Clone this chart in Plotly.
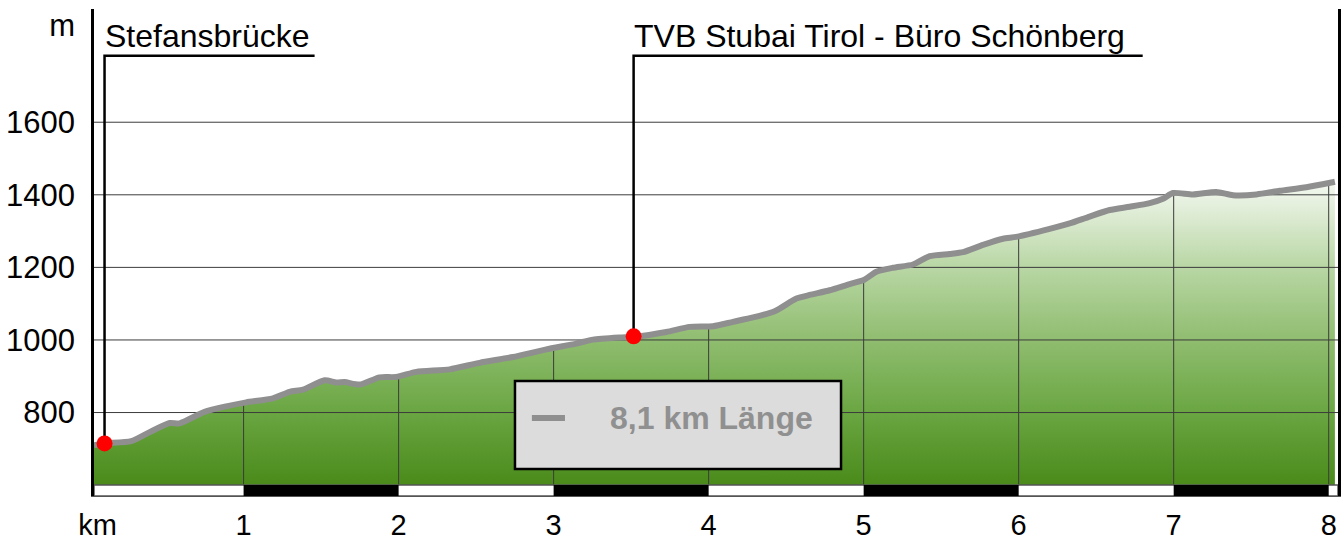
import numpy as np
import plotly.graph_objects as go

# ---------------- data ----------------
dist_km = [0.035, 0.103, 0.275, 0.394, 0.523, 0.587, 0.748, 0.888, 1.017, 1.189, 1.297, 1.383,
           1.523, 1.598, 1.652, 1.748, 1.877, 1.985, 2.114, 2.329, 2.523, 2.737, 2.953, 3.146,
           3.254, 3.426, 3.523, 3.727, 3.877, 4.028, 4.157, 4.286, 4.426, 4.566, 4.652, 4.781,
           4.910, 5.000, 5.082, 5.189, 5.318, 5.426, 5.555, 5.641, 5.770, 5.899, 5.985, 6.200,
           6.329, 6.458, 6.587, 6.716, 6.845, 6.931, 6.995, 7.124, 7.275, 7.383, 7.534, 7.684,
           7.856, 8.017, 8.040]
elev_m = [710, 715, 721, 746, 771, 770, 802, 817, 828, 839, 857, 863,
          889, 883, 884, 877, 897, 898, 912, 919, 937, 953, 974, 990,
          1001, 1007, 1009, 1022, 1036, 1038, 1050, 1062, 1079, 1114, 1124, 1137,
          1154, 1165, 1188, 1199, 1208, 1231, 1237, 1242, 1262, 1279, 1284, 1306,
          1321, 1340, 1358, 1367, 1377, 1389, 1405, 1401, 1408, 1399, 1401, 1411,
          1421, 1434, 1436]

wp_names = ["Stefansbrücke", "TVB Stubai Tirol - Büro Schönberg"]
wp_km = [0.103, 3.516]
wp_elev = [715, 1010]
wp_label_end_km = [1.458, 6.80]

legend_text = "8,1 km Länge"

y_ticks = [800, 1000, 1200, 1400, 1600]
x_ticks = [1, 2, 3, 4, 5, 6, 7, 8]

# axis frame
x_min, x_max = 0.035, 8.06
y_min, y_max = 570, 1912
base_elev = 600
label_level = 1783
unit_y = 1868
unit_x = 0.058

fill_colors = [[0.0, "#4a8a1a"], [0.24, "#6aa642"], [0.48, "#90bd70"],
               [0.72, "#b9d7a5"], [1.0, "#f4f8f1"]]
grid_color = "#3c3c3c"
line_color = "#8f8f8f"

FONT = "Liberation Sans, Arial, sans-serif"

fig = go.Figure()

# baseline for the fill
fig.add_trace(go.Scatter(x=[dist_km[0], dist_km[-1]], y=[base_elev, base_elev], mode="lines",
                         line=dict(width=0), showlegend=False, hoverinfo="skip"))
# gradient filled area
fig.add_trace(go.Scatter(x=dist_km, y=elev_m, mode="lines", fill="tonexty",
                         line=dict(width=0),
                         fillgradient=dict(type="vertical", colorscale=fill_colors,
                                           start=base_elev, stop=max(elev_m)),
                         showlegend=False, hoverinfo="skip"))

# horizontal grid lines (drawn over the fill)
for v in y_ticks:
    fig.add_trace(go.Scatter(x=[x_min, x_max], y=[v, v], mode="lines",
                             line=dict(color=grid_color, width=1),
                             showlegend=False, hoverinfo="skip"))
# vertical grid lines, only under the profile
for k in x_ticks:
    top = float(np.interp(k, dist_km, elev_m))
    fig.add_trace(go.Scatter(x=[k, k], y=[base_elev, top], mode="lines",
                             line=dict(color=grid_color, width=1),
                             showlegend=False, hoverinfo="skip"))

# profile line
fig.add_trace(go.Scatter(x=dist_km, y=elev_m, mode="lines",
                         line=dict(color=line_color, width=6, shape="spline", smoothing=0.6),
                         name=legend_text, showlegend=False, hoverinfo="skip"))

# leader lines
for name, kx, ev, kend in zip(wp_names, wp_km, wp_elev, wp_label_end_km):
    fig.add_trace(go.Scatter(x=[kx, kx, kend], y=[ev, label_level, label_level], mode="lines",
                             line=dict(color="black", width=2.5),
                             showlegend=False, hoverinfo="skip"))
    fig.add_annotation(x=kx, y=label_level, text=name, showarrow=False,
                       xanchor="left", yanchor="bottom", xshift=-2, yshift=0,
                       font=dict(family=FONT, size=32, color="black"))

# waypoint markers
fig.add_trace(go.Scatter(x=wp_km, y=wp_elev, mode="markers",
                         marker=dict(color="#ff0000", size=16),
                         showlegend=False, hoverinfo="skip"))

shapes = []
# distance scale strip
shapes.append(dict(type="rect", xref="x", yref="y", x0=x_min, x1=x_max, y0=y_min, y1=base_elev,
                   fillcolor="white", line=dict(color="#555555", width=1.5), layer="above"))
for k in x_ticks:
    if k % 2 == 0:
        shapes.append(dict(type="rect", xref="x", yref="y", x0=k - 1, x1=k, y0=y_min,
                           y1=base_elev, fillcolor="black", line=dict(width=0), layer="above"))

# legend box
shapes.append(dict(type="rect", xref="paper", yref="paper", x0=0.3384, x1=0.6005,
                   y0=0.0554, y1=0.2361, fillcolor="#dcdcdc",
                   line=dict(color="black", width=2.5), layer="above"))
shapes.append(dict(type="line", xref="paper", yref="paper", x0=0.352, x1=0.3786,
                   y0=0.160, y1=0.160, line=dict(color=line_color, width=6), layer="above"))
fig.add_annotation(xref="paper", yref="paper", x=0.496, y=0.160, text="<b>%s</b>" % legend_text,
                   showarrow=False, xanchor="center", yanchor="middle",
                   font=dict(family=FONT, size=32, color="#909090"))

fig.update_layout(
    width=1341, height=541,
    margin=dict(l=94, r=3, t=9, b=45),
    paper_bgcolor="white", plot_bgcolor="white",
    shapes=shapes,
    showlegend=False,
    xaxis=dict(range=[x_min, x_max], showgrid=False, zeroline=False, automargin=False,
               tickvals=[unit_x] + x_ticks, ticktext=["km"] + [str(k) for k in x_ticks],
               ticks="", ticklabelstandoff=3,
               tickfont=dict(family=FONT, size=29, color="black"),
               showline=True, linecolor="#555555", linewidth=1),
    yaxis=dict(range=[y_min, y_max], showgrid=False, zeroline=False, automargin=False,
               tickvals=y_ticks + [unit_y], ticktext=[str(v) for v in y_ticks] + ["m"],
               ticks="", ticklabelstandoff=10,
               tickfont=dict(family=FONT, size=31, color="black"),
               showline=True, mirror=True, linecolor="black", linewidth=2.5),
)

fig.write_html("out.html", config={"displayModeBar": False},
               post_script="document.body.style.margin='0';document.body.style.overflow='hidden';")
